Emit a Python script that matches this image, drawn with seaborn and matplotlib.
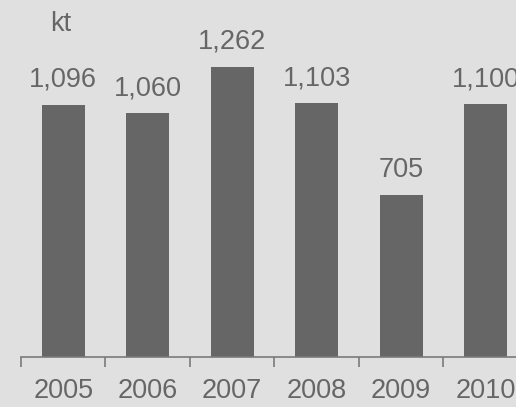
import matplotlib
matplotlib.use("Agg")
import matplotlib.pyplot as plt
import seaborn as sns
import pandas as pd

# data
years = ["2005", "2006", "2007", "2008", "2009", "2010"]
volumes = [1096, 1060, 1262, 1103, 705, 1100]
unit = "kt"

bg = "#e0e0e0"
bar_color = "#666666"
text_color = "#666666"
axis_color = "#7a7a7a"

sns.set_theme(style="white")
plt.rcParams["font.family"] = ["Liberation Sans", "DejaVu Sans"]

df = pd.DataFrame({"year": years, "kt": volumes})

fig = plt.figure(figsize=(5.16, 4.07), dpi=100, facecolor=bg)
ax = fig.add_axes([21 / 516, 50 / 407, 495 / 516, 357 / 407])
ax.set_facecolor(bg)

sns.barplot(data=df, x="year", y="kt", color=bar_color, saturation=1,
            width=0.51, linewidth=0, edgecolor=bar_color, ax=ax)

ax.set_xlim(-0.5, 5.36)
ax.set_ylim(0, 1553)

for i, v in enumerate(volumes):
    ax.annotate(f"{v:,}", xy=(i, v), xytext=(0, 13), textcoords="offset points",
                ha="center", va="baseline", fontsize=19.5, color=text_color)

# spines and ticks
for s in ["top", "right", "left"]:
    ax.spines[s].set_visible(False)
ax.spines["bottom"].set_color(axis_color)
ax.spines["bottom"].set_linewidth(1.2)
ax.set_yticks([])
ax.set_xlabel("")
ax.set_ylabel("")
ax.set_xticks(range(len(years)))
ax.set_xticklabels(years, fontsize=19.5, color=text_color)
ax.tick_params(axis="x", which="major", length=0, pad=15)
ax.set_xticks([i - 0.5 for i in range(len(years))], minor=True)
ax.tick_params(axis="x", which="minor", length=7, width=1.2, color=axis_color,
               direction="out", bottom=True)

fig.text(61 / 516, 1 - 24 / 407, unit, ha="center", va="center",
         fontsize=19.5, color=text_color)

fig.savefig("out.png", dpi=100, facecolor=bg)
